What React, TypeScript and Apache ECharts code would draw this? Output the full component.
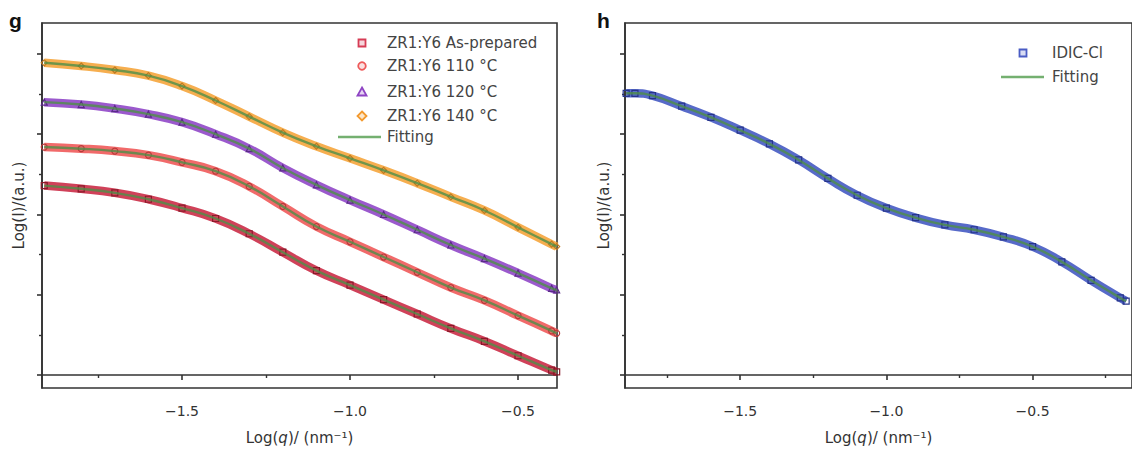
import React, { useEffect, useRef } from "react";
import * as echarts from "echarts";

// ---- data ----
const leftQ = [-1.91, -1.8, -1.7, -1.6, -1.5, -1.4, -1.3, -1.2, -1.1, -1.0, -0.9, -0.8, -0.7, -0.6, -0.5, -0.4, -0.385];
const asPrepared = [2.36, 2.32, 2.27, 2.19, 2.08, 1.95, 1.76, 1.53, 1.3, 1.12, 0.94, 0.76, 0.58, 0.42, 0.24, 0.06, 0.04];
const t110 = [2.84, 2.82, 2.79, 2.74, 2.65, 2.54, 2.35, 2.1, 1.85, 1.66, 1.47, 1.28, 1.09, 0.93, 0.74, 0.55, 0.52];
const t120 = [3.4, 3.37, 3.32, 3.25, 3.15, 3.0, 2.82, 2.58, 2.37, 2.18, 2.0, 1.81, 1.62, 1.45, 1.27, 1.08, 1.06];
const t140 = [3.89, 3.85, 3.8, 3.73, 3.6, 3.42, 3.22, 3.02, 2.85, 2.7, 2.55, 2.39, 2.22, 2.05, 1.84, 1.63, 1.6];

const rightQ = [-1.89, -1.86, -1.8, -1.7, -1.6, -1.5, -1.4, -1.3, -1.2, -1.1, -1.0, -0.9, -0.8, -0.7, -0.6, -0.5, -0.4, -0.3, -0.2, -0.18];
const idicCl = [3.51, 3.51, 3.48, 3.35, 3.21, 3.05, 2.88, 2.68, 2.45, 2.24, 2.08, 1.96, 1.87, 1.81, 1.72, 1.6, 1.41, 1.18, 0.96, 0.92];

const xMajorTicks = [-1.5, -1.0, -0.5];
const xMinorTicksLeft = [-1.75, -1.25, -0.75];
const xMinorTicksRight = [-1.75, -1.25, -0.75, -0.25];
const yMajorTicks = [0, 1, 2, 3, 4];
const yMinorTicks = [0.5, 1.5, 2.5, 3.5];

const leftNames = ["ZR1:Y6 As-prepared", "ZR1:Y6 110 °C", "ZR1:Y6 120 °C", "ZR1:Y6 140 °C"];
const rightName = "IDIC-Cl";
const fitName = "Fitting";

const AX = "#333";
const FONT = '"DejaVu Sans", sans-serif';
const GREEN = "#4f8f48";

const zip = (xs: number[], ys: number[]) => xs.map((x, i) => [x, ys[i]]);

function xAxes(grid: number, min: number, max: number, minor: number[]) {
  return [
    {
      type: "value", gridIndex: grid, min, max, position: "bottom",
      axisLine: { show: true, lineStyle: { color: AX, width: 1.6 } },
      axisTick: { show: true, customValues: xMajorTicks, length: 5, inside: false, lineStyle: { color: AX, width: 1.6 } },
      axisLabel: {
        show: true, customValues: xMajorTicks, margin: 16, fontSize: 14, fontFamily: FONT, color: "#333",
        formatter: (v: number) => v.toFixed(1).replace("-", "\u2212"),
      },
      splitLine: { show: false },
      name: "{a|Log(}{i|q}{a|)/ (nm\u207B\u00B9)}",
      nameLocation: "middle", nameGap: 42,
      nameTextStyle: {
        rich: {
          a: { fontSize: 15, fontFamily: FONT, color: "#333" },
          i: { fontSize: 15, fontFamily: FONT, fontStyle: "italic", color: "#333" },
        },
      },
    },
    {
      type: "value", gridIndex: grid, min, max, position: "bottom",
      axisLine: { show: false },
      axisTick: { show: true, customValues: minor, length: 3, lineStyle: { color: AX, width: 1.4 } },
      axisLabel: { show: false },
      splitLine: { show: false },
    },
  ];
}

function yAxes(grid: number, gap: number) {
  return [
    {
      type: "value", gridIndex: grid, min: -0.162, max: 4.386, position: "left",
      axisLine: { show: true, lineStyle: { color: AX, width: 1.6 } },
      axisTick: { show: true, customValues: yMajorTicks, length: 5, lineStyle: { color: AX, width: 1.6 } },
      axisLabel: { show: false },
      splitLine: { show: false },
      name: "Log(I)/(a.u.)", nameLocation: "middle", nameGap: gap, nameRotate: 90,
      nameTextStyle: { fontSize: 15, fontFamily: FONT, color: "#333" },
    },
    {
      type: "value", gridIndex: grid, min: -0.162, max: 4.386, position: "left",
      axisLine: { show: false },
      axisTick: { show: true, customValues: yMinorTicks, length: 3, lineStyle: { color: AX, width: 1.4 } },
      axisLabel: { show: false },
      splitLine: { show: false },
    },
  ];
}

function dataSeries(name: string, xs: number[], ys: number[], color: string, edge: string, symbol: string, xi: number, yi: number) {
  return [
    {
      type: "line", name, xAxisIndex: xi, yAxisIndex: yi, data: zip(xs, ys), smooth: 0.5,
      symbol, symbolSize: 6, showSymbol: true, clip: true,
      itemStyle: { color: "rgba(0,0,0,0)", borderColor: edge, borderWidth: 1.2 },
      lineStyle: { color, width: 8.5, opacity: 0.85 },
      z: 2,
    },
    {
      type: "line", name: fitName, xAxisIndex: xi, yAxisIndex: yi, data: zip(xs, ys), smooth: 0.5,
      symbol: "none", clip: true,
      lineStyle: { color: GREEN, width: 2.4, opacity: 0.8 },
      z: 3,
    },
  ];
}

function legendGraphics() {
  const txt = (x: number, y: number, text: string) => ({
    type: "text", x, y, style: { text, fill: "#444", font: `15px ${FONT}`, verticalAlign: "middle", align: "left" },
  });
  const mx = 362;
  const rows = [43, 66, 92, 116];
  const g: any[] = [
    { type: "rect", shape: { x: mx - 3.5, y: rows[0] - 3.5, width: 7, height: 7 }, style: { fill: "#f6d6dc", stroke: "#d63c55", lineWidth: 1.8 } },
    { type: "circle", shape: { cx: mx, cy: rows[1], r: 3.8 }, style: { fill: "#fbe0e0", stroke: "#ee5a5a", lineWidth: 1.8 } },
    { type: "polygon", shape: { points: [[mx, rows[2] - 4.5], [mx + 4.5, rows[2] + 3.5], [mx - 4.5, rows[2] + 3.5]] }, style: { fill: "#e6d4f2", stroke: "#8e44c4", lineWidth: 1.8 } },
    { type: "polygon", shape: { points: [[mx, rows[3] - 4.5], [mx + 4.5, rows[3]], [mx, rows[3] + 4.5], [mx - 4.5, rows[3]]] }, style: { fill: "#fde6c8", stroke: "#f39a2e", lineWidth: 1.8 } },
    { type: "line", shape: { x1: 338, y1: 137, x2: 381, y2: 137 }, style: { stroke: "#74b070", lineWidth: 2.5 } },
  ];
  leftNames.forEach((n, i) => g.push(txt(387, rows[i], n)));
  g.push(txt(387, 137, fitName));
  g.push({ type: "rect", shape: { x: 1019.5, y: 49.5, width: 7, height: 7 }, style: { fill: "#d8dcf4", stroke: "#4a5cc4", lineWidth: 1.8 } });
  g.push({ type: "line", shape: { x1: 1001, y1: 77, x2: 1044, y2: 77 }, style: { stroke: "#74b070", lineWidth: 2.5 } });
  g.push(txt(1052, 53, rightName));
  g.push(txt(1052, 77, fitName));
  g.push({ type: "text", x: 9, y: 20, style: { text: "g", fill: "#111", font: `bold 21px "Liberation Sans", Arial, sans-serif`, verticalAlign: "middle" } });
  g.push({ type: "text", x: 597, y: 20, style: { text: "h", fill: "#111", font: `bold 21px "Liberation Sans", Arial, sans-serif`, verticalAlign: "middle" } });
  return g;
}

export default function App() {
  const ref = useRef<HTMLDivElement>(null);
  useEffect(() => {
    if (!ref.current) return;
    const chart = echarts.init(ref.current, undefined, { renderer: "svg" });
    const series = [
      ...dataSeries(leftNames[0], leftQ, asPrepared, "#c8203c", "#8a1a2a", "rect", 0, 0),
      ...dataSeries(leftNames[1], leftQ, t110, "#ee5050", "#b83a3a", "circle", 0, 0),
      ...dataSeries(leftNames[2], leftQ, t120, "#8a3cc4", "#5a2a88", "triangle", 0, 0),
      ...dataSeries(leftNames[3], leftQ, t140, "#f4a030", "#c07a20", "diamond", 0, 0),
      ...dataSeries(rightName, rightQ, idicCl, "#3a50c0", "#26348a", "rect", 2, 2),
    ];
    chart.setOption({
      animation: false,
      backgroundColor: "#fff",
      grid: [
        { left: 42, top: 23, width: 515, height: 365, show: true, borderColor: AX, borderWidth: 1.6, backgroundColor: "transparent" },
        { left: 625, top: 23, width: 515, height: 365, show: true, borderColor: AX, borderWidth: 1.6, backgroundColor: "transparent" },
      ],
      xAxis: [
        ...xAxes(0, -1.9167, -0.384, xMinorTicksLeft),
        ...xAxes(1, -1.894, -0.16, xMinorTicksRight),
      ],
      yAxis: [...yAxes(0, 16), ...yAxes(1, 14)],
      series,
      graphic: legendGraphics(),
    });
    return () => chart.dispose();
  }, []);
  return <div ref={ref} style={{ position: "fixed", left: 0, top: 0, width: 1132, height: 455 }} />;
}
